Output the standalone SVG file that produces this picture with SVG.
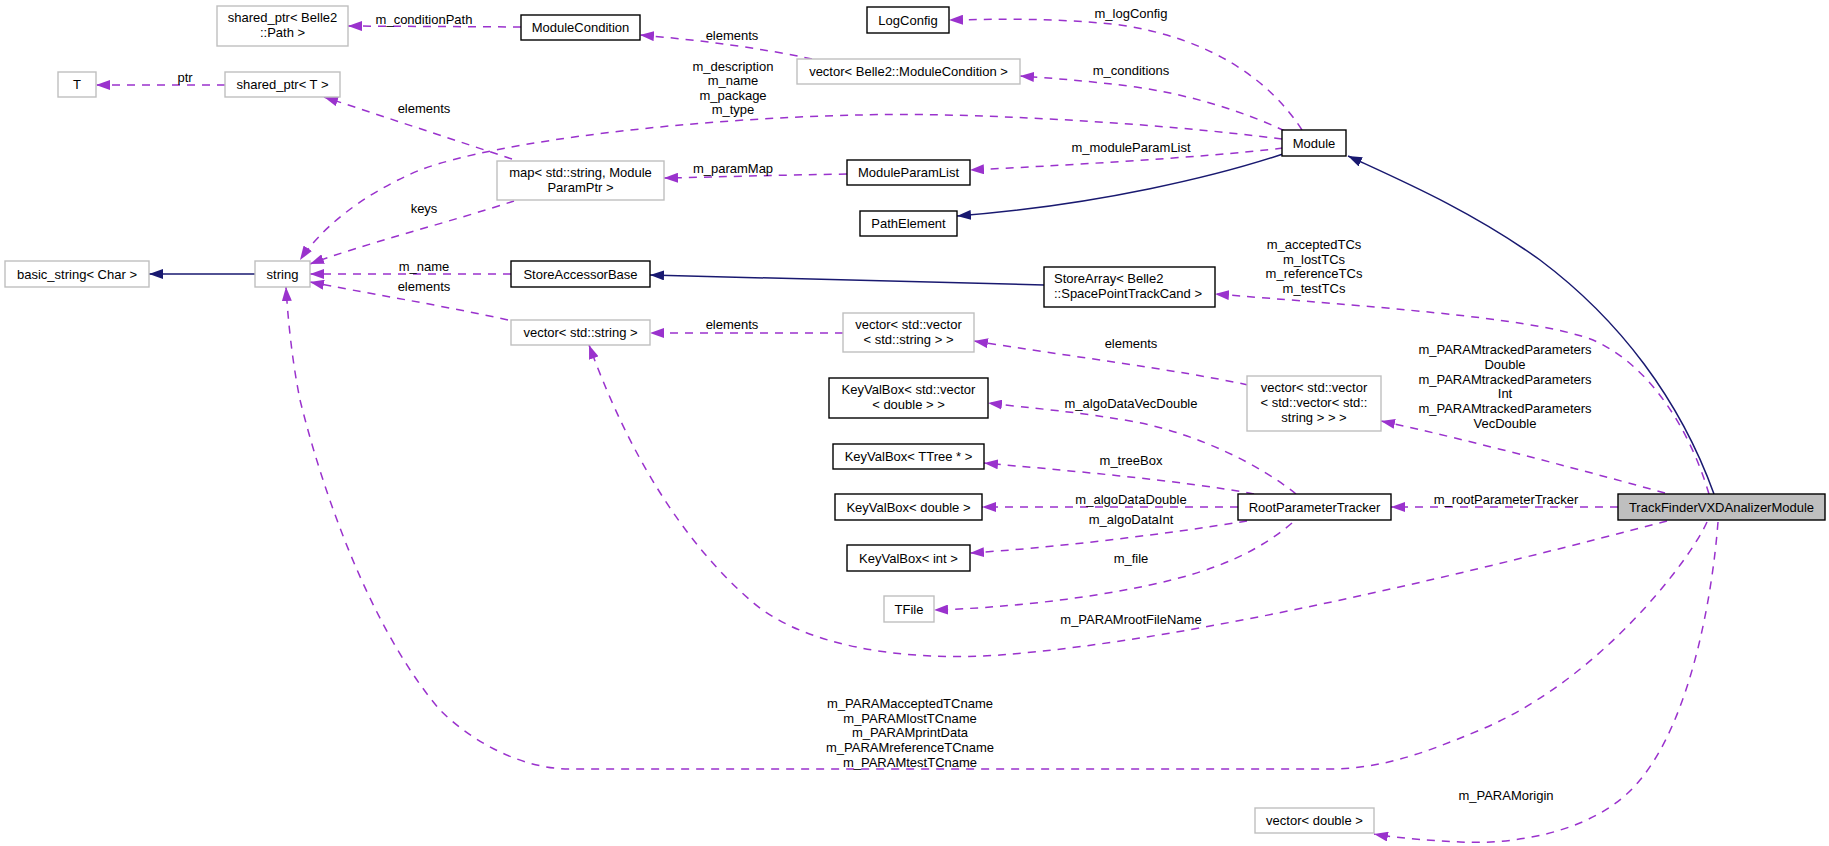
<svg xmlns="http://www.w3.org/2000/svg" width="1829" height="846" viewBox="0 0 1829 846">
<defs>
<style>
text{font-family:"Liberation Sans",Arial,Helvetica,sans-serif;font-size:13px;fill:#000}
.n rect{fill:#fff;stroke:#000;stroke-width:1.4}
.g rect{fill:#fff;stroke:#bfbfbf;stroke-width:1.4}
.c{text-anchor:middle}
.e{fill:none;stroke:#9a32cd;stroke-width:1.5;stroke-dasharray:8,7}
.i{fill:none;stroke:#191970;stroke-width:1.5}
</style>
<marker id="ap" markerUnits="userSpaceOnUse" markerWidth="14" markerHeight="10" viewBox="0 0 14 10" refX="14" refY="5" orient="auto"><path d="M0,0 L14,5 L0,10 z" fill="#9a32cd"/></marker>
<marker id="an" markerUnits="userSpaceOnUse" markerWidth="14" markerHeight="10" viewBox="0 0 14 10" refX="14" refY="5" orient="auto"><path d="M0,0 L14,5 L0,10 z" fill="#191970"/></marker>
</defs>
<rect width="1829" height="846" fill="#fff"/>

<g id="edges">
<path class="e" marker-end="url(#ap)" d="M1302,130 C1270,80 1210,38 1120,25 C1060,18 1000,19 949,20"/>
<text class="c" x="1131" y="17.5">m_logConfig</text>
<path class="e" marker-end="url(#ap)" d="M1285,131 C1240,110 1190,95 1136,87 C1090,81 1050,78 1020,76"/>
<text class="c" x="1131" y="74.5">m_conditions</text>
<path class="e" marker-end="url(#ap)" d="M812,59 C760,48 700,40 640,35"/>
<text class="c" x="732" y="39.5">elements</text>
<path class="e" marker-end="url(#ap)" d="M521,27 L348,26"/>
<text class="c" x="424" y="23.5">m_conditionPath</text>
<path class="e" marker-end="url(#ap)" d="M1282,139 C1150,122 960,112 860,115 C700,118 500,140 420,170 C360,195 320,230 300,260"/>
<text class="c" x="733" y="70.5">m_description</text>
<text class="c" x="733" y="85">m_name</text>
<text class="c" x="733" y="99.5">m_package</text>
<text class="c" x="733" y="114">m_type</text>
<path class="e" marker-end="url(#ap)" d="M1283,148 C1200,158 1050,166 970,170"/>
<text class="c" x="1131" y="151.5">m_moduleParamList</text>
<path class="e" marker-end="url(#ap)" d="M847,174 C780,175 720,177 664,178"/>
<text class="c" x="733" y="172.5">m_paramMap</text>
<path class="e" marker-end="url(#ap)" d="M512,159 L324,97"/>
<text class="c" x="424" y="112.5">elements</text>
<path class="e" marker-end="url(#ap)" d="M514,201 C450,222 360,245 310,264"/>
<text class="c" x="424" y="212.5">keys</text>
<path class="e" marker-end="url(#ap)" d="M225,85 L96,85"/>
<text class="c" x="185" y="81.5">ptr</text>
<path class="i" marker-end="url(#an)" d="M255,274 L149,274"/>
<path class="e" marker-end="url(#ap)" d="M511,274 L310,274"/>
<text class="c" x="424" y="270.5">m_name</text>
<path class="e" marker-end="url(#ap)" d="M508,320 C440,305 360,292 310,282"/>
<text class="c" x="424" y="290.5">elements</text>
<path class="e" marker-end="url(#ap)" d="M843,333 L650,333"/>
<text class="c" x="732" y="328.5">elements</text>
<path class="e" marker-end="url(#ap)" d="M1248,385 C1180,370 1060,355 974,341"/>
<text class="c" x="1131" y="347.5">elements</text>
<path class="e" marker-end="url(#ap)" d="M1665,493 C1600,475 1470,440 1381,421"/>
<text class="c" x="1505" y="353.5">m_PARAMtrackedParameters</text>
<text class="c" x="1505" y="368.5">Double</text>
<text class="c" x="1505" y="383.5">m_PARAMtrackedParameters</text>
<text class="c" x="1505" y="397.5">Int</text>
<text class="c" x="1505" y="412.5">m_PARAMtrackedParameters</text>
<text class="c" x="1505" y="427.5">VecDouble</text>
<path class="e" marker-end="url(#ap)" d="M1618,507 L1391,507"/>
<text class="c" x="1506" y="503.5">m_rootParameterTracker</text>
<path class="i" marker-end="url(#an)" d="M1714,494 C1680,400 1620,320 1540,260 C1470,210 1400,180 1348,156"/>
<path class="e" marker-end="url(#ap)" d="M1709,494 C1690,430 1650,365 1593,340 C1540,320 1420,310 1215,294"/>
<text class="c" x="1314" y="248.5">m_acceptedTCs</text>
<text class="c" x="1314" y="263.5">m_lostTCs</text>
<text class="c" x="1314" y="277.5">m_referenceTCs</text>
<text class="c" x="1314" y="292.5">m_testTCs</text>
<path class="e" marker-end="url(#ap)" d="M1296,494 C1260,465 1200,435 1136,422 C1080,412 1030,408 988,403"/>
<text class="c" x="1131" y="407.5">m_algoDataVecDouble</text>
<path class="e" marker-end="url(#ap)" d="M1254,494 C1180,480 1060,470 984,463"/>
<text class="c" x="1131" y="464.5">m_treeBox</text>
<path class="e" marker-end="url(#ap)" d="M1238,507 L982,507"/>
<text class="c" x="1131" y="503.5">m_algoDataDouble</text>
<path class="e" marker-end="url(#ap)" d="M1247,521 C1160,535 1050,548 970,553"/>
<text class="c" x="1131" y="523.5">m_algoDataInt</text>
<path class="e" marker-end="url(#ap)" d="M1292,523 C1260,550 1220,570 1150,585 C1080,600 1000,608 934,610"/>
<text class="c" x="1131" y="562.5">m_file</text>
<path class="e" marker-end="url(#ap)" d="M1667,521 C1500,565 1200,640 1000,655 C900,662 800,645 750,600 C670,530 620,430 589,345"/>
<text class="c" x="1131" y="623.5">m_PARAMrootFileName</text>
<path class="e" marker-end="url(#ap)" d="M1707,522 C1690,560 1600,680 1480,730 C1420,755 1380,769 1327,769 L570,769 C520,769 470,740 440,710 C380,640 330,520 300,400 C292,360 288,320 286,287"/>
<text class="c" x="910" y="707.5">m_PARAMacceptedTCname</text>
<text class="c" x="910" y="722.5">m_PARAMlostTCname</text>
<text class="c" x="910" y="736.5">m_PARAMprintData</text>
<text class="c" x="910" y="751.5">m_PARAMreferenceTCname</text>
<text class="c" x="910" y="766.5">m_PARAMtestTCname</text>
<path class="e" marker-end="url(#ap)" d="M1718,522 C1712,600 1690,720 1640,780 C1600,830 1520,845 1460,842 C1420,840 1390,837 1374,834"/>
<text class="c" x="1506" y="799.5">m_PARAMorigin</text>
<path class="i" marker-end="url(#an)" d="M1283,154 C1220,175 1100,205 957,216"/>
<path class="i" marker-end="url(#an)" d="M1044,285 L650,275"/>
</g>

<g id="n_sharedptr_path" class="g"><rect x="217" y="6" width="131" height="40"/><text class="c" x="282.5" y="21.5">shared_ptr&lt; Belle2</text><text class="c" x="282.5" y="36.5">::Path &gt;</text></g>
<g id="n_T" class="g"><rect x="58" y="72" width="38" height="25"/><text class="c" x="77" y="89">T</text></g>
<g id="n_sharedptr_T" class="g"><rect x="225" y="72" width="115" height="25"/><text class="c" x="282.5" y="89">shared_ptr&lt; T &gt;</text></g>
<g id="n_ModuleCondition" class="n"><rect x="521" y="15" width="119" height="25"/><text class="c" x="580.5" y="32">ModuleCondition</text></g>
<g id="n_LogConfig" class="n"><rect x="867" y="7" width="82" height="26"/><text class="c" x="908" y="24.5">LogConfig</text></g>
<g id="n_vec_ModuleCondition" class="g"><rect x="797" y="59" width="223" height="25"/><text class="c" x="908.5" y="76">vector&lt; Belle2::ModuleCondition &gt;</text></g>
<g id="n_map" class="g"><rect x="497" y="161" width="167" height="39"/><text class="c" x="580.5" y="176.5">map&lt; std::string, Module</text><text class="c" x="580.5" y="191.5">ParamPtr &gt;</text></g>
<g id="n_ModuleParamList" class="n"><rect x="847" y="160" width="123" height="25"/><text class="c" x="908.5" y="177">ModuleParamList</text></g>
<g id="n_PathElement" class="n"><rect x="860" y="211" width="97" height="25"/><text class="c" x="908.5" y="228">PathElement</text></g>
<g id="n_Module" class="n"><rect x="1282" y="130" width="64" height="26"/><text class="c" x="1314" y="147.5">Module</text></g>
<g id="n_basic_string" class="g"><rect x="5" y="261" width="144" height="26"/><text class="c" x="77" y="278.5">basic_string&lt; Char &gt;</text></g>
<g id="n_string" class="g"><rect x="255" y="261" width="55" height="26"/><text class="c" x="282.5" y="278.5">string</text></g>
<g id="n_StoreAccessorBase" class="n"><rect x="511" y="261" width="139" height="26"/><text class="c" x="580.5" y="278.5">StoreAccessorBase</text></g>
<g id="n_StoreArray" class="n"><rect x="1044" y="267" width="171" height="40"/><text x="1054" y="282.5">StoreArray&lt; Belle2</text><text x="1054" y="297.5">::SpacePointTrackCand &gt;</text></g>
<g id="n_vec_string" class="g"><rect x="511" y="320" width="139" height="25"/><text class="c" x="580.5" y="337">vector&lt; std::string &gt;</text></g>
<g id="n_vec_vec_string" class="g"><rect x="843" y="313" width="131" height="39"/><text class="c" x="908.5" y="328.5">vector&lt; std::vector</text><text class="c" x="908.5" y="343.5">&lt; std::string &gt; &gt;</text></g>
<g id="n_vec_vec_vec_string" class="g"><rect x="1247" y="376" width="134" height="55"/><text class="c" x="1314" y="391.5">vector&lt; std::vector</text><text class="c" x="1314" y="406.5">&lt; std::vector&lt; std::</text><text class="c" x="1314" y="421.5">string &gt; &gt; &gt;</text></g>
<g id="n_KVB_vecdouble" class="n"><rect x="829" y="378" width="159" height="40"/><text class="c" x="908.5" y="393.5">KeyValBox&lt; std::vector</text><text class="c" x="908.5" y="408.5">&lt; double &gt; &gt;</text></g>
<g id="n_KVB_TTree" class="n"><rect x="833" y="444" width="151" height="25"/><text class="c" x="908.5" y="461">KeyValBox&lt; TTree * &gt;</text></g>
<g id="n_KVB_double" class="n"><rect x="835" y="494" width="147" height="26"/><text class="c" x="908.5" y="511.5">KeyValBox&lt; double &gt;</text></g>
<g id="n_KVB_int" class="n"><rect x="847" y="545" width="123" height="26"/><text class="c" x="908.5" y="562.5">KeyValBox&lt; int &gt;</text></g>
<g id="n_RootParameterTracker" class="n"><rect x="1238" y="494" width="153" height="26"/><text class="c" x="1314.5" y="511.5">RootParameterTracker</text></g>
<g id="n_TFile" class="g"><rect x="884" y="596" width="50" height="26"/><text class="c" x="909" y="613.5">TFile</text></g>
<g id="n_TrackFinder" class="n"><rect x="1618" y="494" width="207" height="26" style="fill:#bfbfbf"/><text class="c" x="1721.5" y="511.5">TrackFinderVXDAnalizerModule</text></g>
<g id="n_vec_double" class="g"><rect x="1255" y="808" width="119" height="25"/><text class="c" x="1314.5" y="825">vector&lt; double &gt;</text></g>
</svg>
